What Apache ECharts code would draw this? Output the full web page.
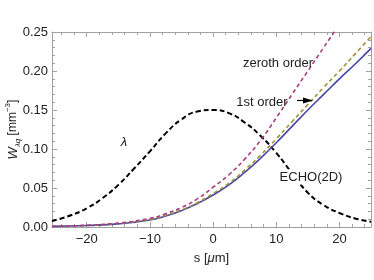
<!DOCTYPE html>
<html>
<head>
<meta charset="utf-8">
<script src="https://cdn.jsdelivr.net/npm/echarts@6/dist/echarts.min.js"></script>
<style>
html,body{margin:0;padding:0;background:#fff;}
#c{width:374px;height:280px;}
</style>
</head>
<body>
<div id="c"></div>
<script>
// s positions [μm]
var sLambda = [-25.5,-22.5,-20,-17.5,-15,-12.5,-10,-7.5,-5,-2.5,0,2.5,5,7.5,10,12.5,15,17.5,20,22.5,25];
var lambdaVals = [0.0078,0.015,0.024,0.037,0.054,0.075,0.097,0.120,0.138,0.148,0.150,0.146,0.134,0.117,0.095,0.069,0.044,0.028,0.018,0.011,0.0068];

var sRise = [-25.5,-20,-15,-10,-7.5,-5,-2.5,0,2.5,5,7.5,10,12.5,15,17.5,20,22.5,25];
var echoVals   = [0.0008,0.002,0.004,0.009,0.014,0.021,0.030,0.041,0.054,0.070,0.088,0.108,0.129,0.150,0.170,0.190,0.209,0.229];
var firstVals  = [0.0008,0.002,0.0045,0.0095,0.015,0.022,0.031,0.043,0.056,0.073,0.092,0.113,0.135,0.157,0.179,0.200,0.222,0.244];
var zerothVals = [0.0008,0.0022,0.005,0.011,0.017,0.025,0.036,0.051,0.067,0.087,0.111,0.140,0.170,0.200,0.230,0.260,0.290,0.320];

var yTicks = ['0.00','0.05','0.10','0.15','0.20','0.25'];

function pairs(xs, ys){ return xs.map(function(x,i){return [x, ys[i]];}); }

var FONT = '"Liberation Sans", Arial, sans-serif';
var axisCol = '#a0a0a0';
var chart = echarts.init(document.getElementById('c'), null, {renderer:'canvas'});

function baseX(pos, showLabel){
  return {
    type:'value', position:pos, min:-25.5, max:25,
    axisLine:{show:true, onZero:false, lineStyle:{color:axisCol, width:1}},
    axisTick:{show:true, inside:true, length:5, lineStyle:{color:axisCol}},
    minorTick:{show:true, splitNumber:5, length:3, lineStyle:{color:axisCol}},
    splitLine:{show:false},
    axisLabel:{show:showLabel, showMinLabel:false, showMaxLabel:false, color:'#222', fontFamily:FONT, fontSize:13, margin:6,
      formatter:function(v){return String(v).replace('-','\u2212');}}
  };
}
function baseY(pos, showLabel){
  return {
    type:'value', position:pos, min:0, max:0.25, interval:0.05,
    axisLine:{show:true, onZero:false, lineStyle:{color:axisCol, width:1}},
    axisTick:{show:true, inside:true, length:5, lineStyle:{color:axisCol}},
    minorTick:{show:true, splitNumber:5, length:3, lineStyle:{color:axisCol}},
    splitLine:{show:false},
    axisLabel:{show:showLabel, color:'#222', fontFamily:FONT, fontSize:13, margin:4,
      formatter:function(v){ var i=Math.round(v/0.05); return yTicks[i]; }}
  };
}

var xb = baseX('bottom', true);
xb.name = '{n|s [}{i|\u03bc}{n|m]}';
xb.nameLocation = 'middle';
xb.nameGap = 25;
xb.nameMoveOverlap = false;
xb.nameTextStyle = {rich:{n:{fontFamily:FONT,fontSize:13,color:'#222'}, i:{fontFamily:FONT,fontSize:13,fontStyle:'italic',color:'#222'}}};

var yl = baseY('left', true);
yl.name = '{i|W}{sub|\u03bbq}{n| [mm}{sup|\u22123}{n|]}';
yl.nameLocation = 'middle';
yl.nameGap = 30;
yl.nameMoveOverlap = false;
yl.nameTextStyle = {rich:{
  n:{fontFamily:FONT,fontSize:12,color:'#222',lineHeight:18,verticalAlign:'middle'},
  i:{fontFamily:FONT,fontSize:13,fontStyle:'italic',color:'#222',lineHeight:18,verticalAlign:'middle'},
  sub:{fontFamily:FONT,fontSize:8,fontStyle:'italic',color:'#222',lineHeight:18,verticalAlign:'bottom'},
  sup:{fontFamily:FONT,fontSize:8,color:'#222',lineHeight:18,verticalAlign:'top'}
}};

var option = {
  animation:false,
  backgroundColor:'#fff',
  grid:{left:52, right:3, top:32, bottom:53, containLabel:false, outerBoundsMode:'none'},
  xAxis:[xb, baseX('top', false)],
  yAxis:[yl, baseY('right', false)],
  series:[
    {name:'lambda', type:'line', data:pairs(sLambda, lambdaVals), smooth:true, showSymbol:false, clip:true, z:2,
      lineStyle:{color:'#000', width:2, type:[5,3]}},
    {name:'ECHO(2D)', type:'line', data:pairs(sRise, echoVals), smooth:true, showSymbol:false, clip:true, z:2,
      lineStyle:{color:'#4646a6', width:1.6}},
    {name:'1st order', type:'line', data:pairs(sRise, firstVals), smooth:true, showSymbol:false, clip:true, z:2,
      lineStyle:{color:'#a0903c', width:1.6, type:[4,3]}},
    {name:'zeroth order', type:'line', data:pairs(sRise, zerothVals), smooth:true, showSymbol:false, clip:true, z:2,
      lineStyle:{color:'#a83c7c', width:1.6, type:[4,3]}}
  ],
  graphic:[
    {type:'text', x:278, y:63, z:10, style:{text:'zeroth order', font:'13px '+FONT, fill:'#222', align:'center', verticalAlign:'middle'}},
    {type:'text', x:262, y:102, z:10, style:{text:'1st order', font:'13px '+FONT, fill:'#222', align:'center', verticalAlign:'middle'}},
    {type:'text', x:311, y:177, z:10, style:{text:'ECHO(2D)', font:'13px '+FONT, fill:'#222', align:'center', verticalAlign:'middle', backgroundColor:'#fff', padding:[1,1]}},
    {type:'text', x:124, y:142, z:10, style:{text:'\u03bb', font:'italic 13px '+FONT, fill:'#222', align:'center', verticalAlign:'middle'}},
    {type:'line', z:10, shape:{x1:297, y1:100.5, x2:306, y2:100.5}, style:{stroke:'#000', lineWidth:1.2}},
    {type:'polygon', z:10, shape:{points:[[303,97.5],[313,100.5],[303,103.5]]}, style:{fill:'#000'}}
  ]
};
chart.setOption(option);
</script>
</body>
</html>
